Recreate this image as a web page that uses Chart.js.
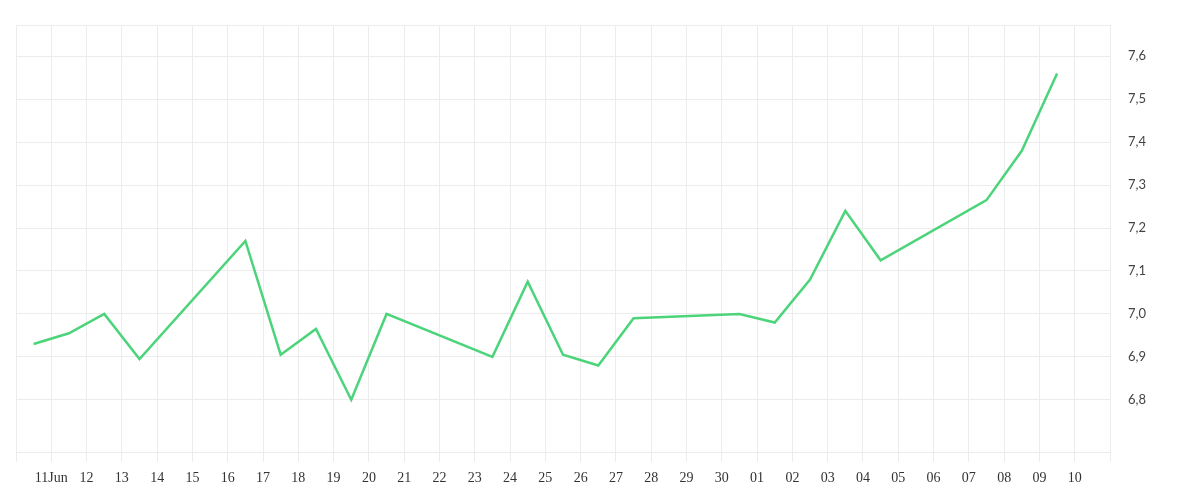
<!DOCTYPE html>
<html><head><meta charset="utf-8">
<script src="https://cdn.jsdelivr.net/npm/chart.js@4"></script>
<style>html,body{margin:0;background:#fff}#w{width:1200px;height:500px}</style>
</head><body><div id="w"><canvas id="c"></canvas></div>
<script>
const dayLabels = ['11Jun','12','13','14','15','16','17','18','19','20','21','22','23','24','25','26','27','28','29','30','01','02','03','04','05','06','07','08','09','10'];
const xValues = [-0.5,0.5,1.5,2.5,5.5,6.5,7.5,8.5,9.5,12.5,13.5,14.5,15.5,16.5,19.5,20.5,21.5,22.5,23.5,26.5,27.5,28.5];
const yValues = [6.93,6.955,7.0,6.895,7.17,6.905,6.965,6.8,7.0,6.9,7.075,6.905,6.88,6.99,7.0,6.98,7.08,7.24,7.125,7.265,7.38,7.56];
const yTicks = [6.8,6.9,7.0,7.1,7.2,7.3,7.4,7.5,7.6];
const Y_MIN = 6.678, Y_MAX = 7.671, X_MIN = -1, X_MAX = 30;
const pts = xValues.map((x,i)=>({x, y:yValues[i]}));
new Chart(document.getElementById('c'), {
  type:'line',
  data:{datasets:[{data:pts,borderColor:'#4cd47a',borderWidth:2.5,pointRadius:0,tension:0,fill:false}]},
  options:{
    responsive:true, maintainAspectRatio:false, animation:false,
    layout:{padding:{left:16,top:0,right:0,bottom:5}},
    plugins:{legend:{display:false},tooltip:{enabled:false}},
    scales:{
      x:{type:'linear',min:X_MIN,max:X_MAX,
        afterBuildTicks:a=>{a.ticks=[];for(let i=X_MIN;i<=X_MAX;i++)a.ticks.push({value:i});},
        grid:{color:'#ececec',tickLength:10},border:{color:'#ececec'},
        ticks:{autoSkip:false,maxRotation:0,padding:8,color:'#333',font:{family:'Liberation Serif',size:14},
          callback:v=>(v>=0&&v<dayLabels.length)?dayLabels[v]:''}},
      y:{position:'right',min:Y_MIN,max:Y_MAX,
        afterBuildTicks:a=>{a.ticks=[{value:Y_MIN},...yTicks.map(v=>({value:v})),{value:Y_MAX}];},
        afterFit:a=>{a.width=90;},
        grid:{color:'#ececec',drawTicks:false},border:{color:'#ececec'},
        ticks:{padding:18,color:'#444',font:{family:'Lato',size:13},
          callback:v=>yTicks.some(t=>Math.abs(t-v)<1e-6)?v.toFixed(1).replace('.',','):''}}
    }
  }
});
</script></body></html>
